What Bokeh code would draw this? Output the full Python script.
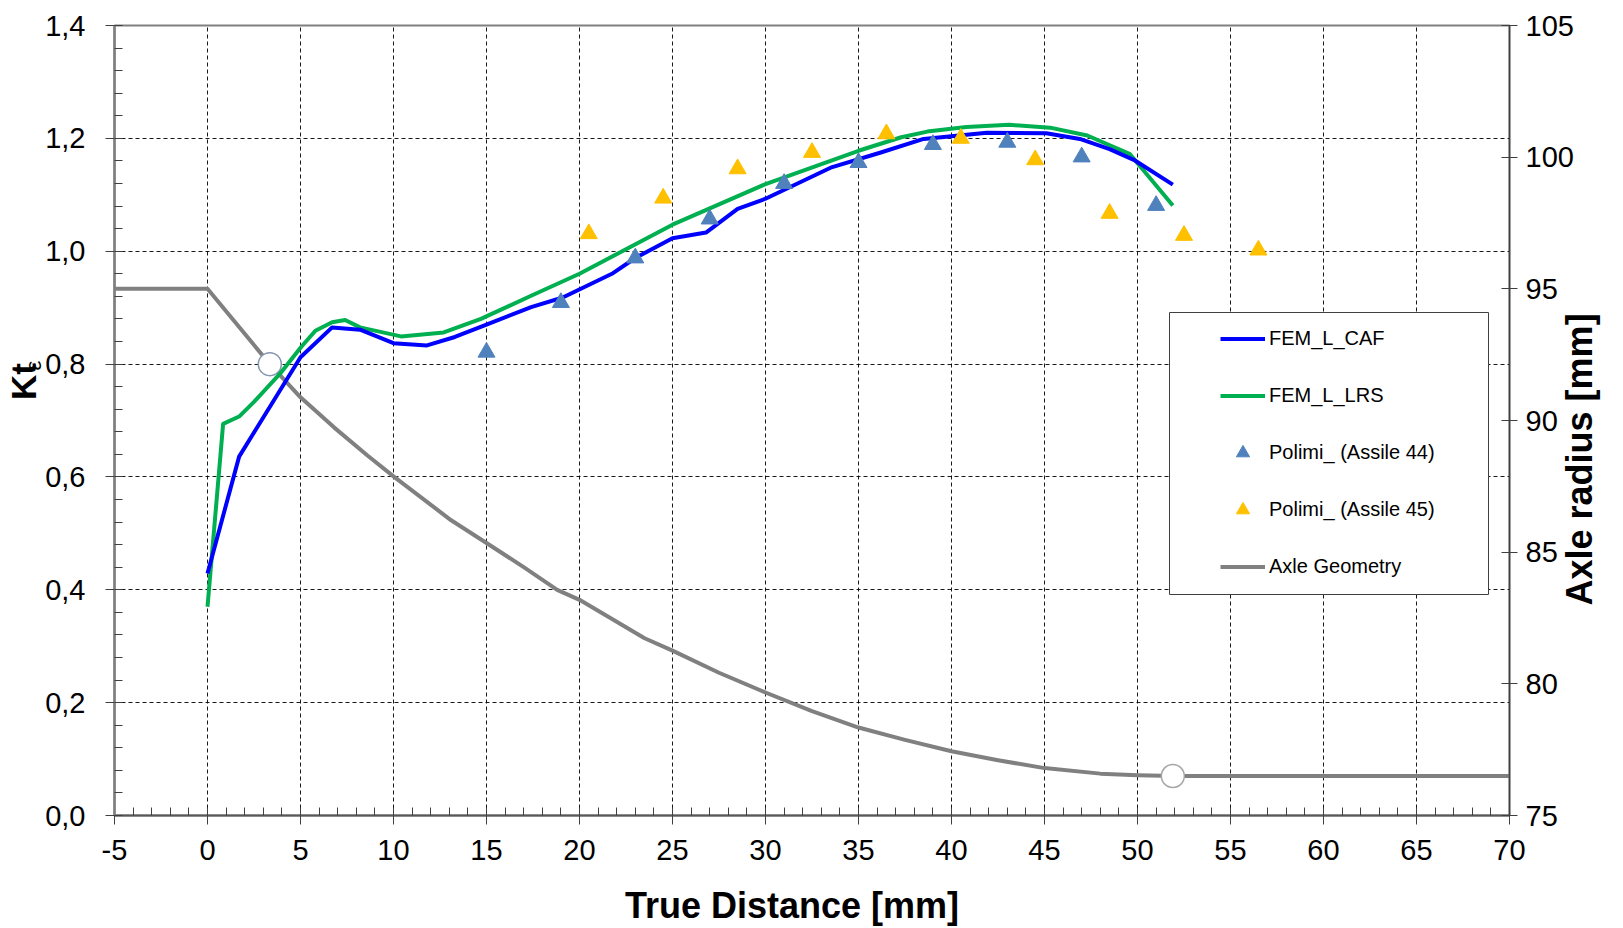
import math
from bokeh.plotting import figure
from bokeh.models import (Range1d, LinearAxis, FixedTicker, CustomJSTickFormatter,
                          Legend, LegendItem, BoxAnnotation)
from bokeh.embed import file_html
from bokeh.resources import INLINE

# ---------------- data ----------------
CAF_X = [0, 1.7, 5.0, 6.7, 8.2, 10.0, 11.8, 13.3, 15.0, 17.4, 19.1, 21.8, 23.0, 25.0,
         26.8, 28.5, 30.0, 33.5, 36.2, 38.5, 41.9, 45.1, 46.9, 48.5, 49.8, 51.9]
CAF_Y = [0.429, 0.636, 0.812, 0.865, 0.861, 0.837, 0.833, 0.848, 0.870, 0.901, 0.918,
         0.961, 0.988, 1.023, 1.033, 1.075, 1.093, 1.148, 1.175, 1.199, 1.210, 1.209,
         1.199, 1.181, 1.162, 1.118]

LRS_X = [0, 0.84, 1.7, 2.5, 3.9, 5.0, 5.8, 6.7, 7.4, 8.2, 10.4, 12.7, 14.7, 17.4, 20,
         25, 30, 35, 37.3, 38.7, 40.8, 43.1, 45.3, 47.3, 49.6, 51.9]
LRS_Y = [0.370, 0.694, 0.707, 0.733, 0.783, 0.829, 0.859, 0.874, 0.878, 0.865, 0.849,
         0.856, 0.880, 0.921, 0.960, 1.047, 1.119, 1.178, 1.202, 1.212, 1.220, 1.224,
         1.219, 1.205, 1.172, 1.081]

A44_X = [15, 19, 23, 27, 31, 35, 39, 43, 47, 51]
A44_Y = [0.821, 0.909, 0.988, 1.057, 1.120, 1.157, 1.189, 1.193, 1.167, 1.081]

A45_X = [20.5, 24.5, 28.5, 32.5, 36.5, 40.5, 44.5, 48.5, 52.5, 56.5]
A45_Y = [1.031, 1.094, 1.146, 1.175, 1.208, 1.200, 1.162, 1.067, 1.028, 1.002]

GEOM_X = [-5, 0, 3.35, 5, 6.8, 8.6, 10, 13.1, 15, 17, 18.8, 20, 23.5, 25, 27.5, 30,
          32.5, 35, 37.5, 40, 42.5, 45, 48, 50, 52, 70]
GEOM_R = [95.0, 95.0, 92.14, 90.88, 89.74, 88.67, 87.88, 86.21, 85.35, 84.43, 83.57,
          83.19, 81.73, 81.26, 80.42, 79.67, 78.96, 78.34, 77.87, 77.44, 77.10, 76.80,
          76.59, 76.53, 76.50, 76.50]

MARK_X = [3.35, 51.9]
MARK_R = [92.14, 76.50]
MARK_LINE = ["#8497b0", "#a6a6a6"]

X_TICKS = [-5, 0, 5, 10, 15, 20, 25, 30, 35, 40, 45, 50, 55, 60, 65, 70]
X_TICK_LABELS = ["-5", "0", "5", "10", "15", "20", "25", "30", "35", "40", "45", "50",
                 "55", "60", "65", "70"]
KT_TICKS = [0.0, 0.2, 0.4, 0.6, 0.8, 1.0, 1.2, 1.4]
KT_TICK_LABELS = ["0,0", "0,2", "0,4", "0,6", "0,8", "1,0", "1,2", "1,4"]
R_TICKS = [75, 80, 85, 90, 95, 100, 105]
R_TICK_LABELS = ["75", "80", "85", "90", "95", "100", "105"]

LABELS = ["FEM_L_CAF", "FEM_L_LRS", "Polimi_ (Assile 44)", "Polimi_ (Assile 45)",
          "Axle Geometry"]
X_TITLE = "True Distance [mm]"
Y_TITLE = "Kt"
Y_TITLE_SUB = "ε"
R_TITLE = "Axle radius [mm]"

FONT = "Liberation Sans"
NB = "\u00a0"

# ---------------- figure ----------------
p = figure(width=1623, height=928, output_backend="svg", toolbar_location=None,
           x_range=Range1d(-5, 70), y_range=Range1d(0, 1.4),
           min_border_left=114, min_border_right=114, min_border_top=25,
           min_border_bottom=112)
p.extra_y_ranges = {"r": Range1d(75, 105)}
p.outline_line_color = "#808080"
p.outline_line_width = 2
p.background_fill_color = "white"

FMT_CODE = ("let i = -1; for (let k = 0; k < t.length; k++) {"
            " if (Math.abs(t[k] - tick) < 1e-6) { i = k; } }"
            " return i >= 0 ? l[i] : '';")


def style_axis(ax, ticks, labels, minor):
    ax.ticker = FixedTicker(ticks=ticks, minor_ticks=minor)
    ax.formatter = CustomJSTickFormatter(args=dict(t=ticks, l=labels), code=FMT_CODE)
    ax.major_label_text_font = FONT
    ax.major_label_text_font_size = "29px"
    ax.major_label_text_color = "black"
    ax.major_tick_line_color = "#404040"
    ax.minor_tick_line_color = "#404040"
    ax.major_tick_line_width = 1
    ax.minor_tick_line_width = 1


def title_axis(ax, text, size, bold, standoff):
    ax.ticker = FixedTicker(ticks=[], minor_ticks=[])
    ax.axis_line_color = None
    ax.major_tick_line_color = None
    ax.minor_tick_line_color = None
    ax.major_tick_out = 0
    ax.major_tick_in = 0
    ax.minor_tick_out = 0
    ax.minor_tick_in = 0
    ax.major_label_standoff = 0
    ax.major_label_text_font_size = "0px"
    ax.axis_label = text
    ax.axis_label_text_font = FONT
    ax.axis_label_text_font_size = size
    ax.axis_label_text_font_style = "bold" if bold else "normal"
    ax.axis_label_text_color = "black"
    ax.axis_label_standoff = standoff


# left axis
la = p.yaxis[0]
style_axis(la, KT_TICKS, KT_TICK_LABELS, [round(i * 0.04, 2) for i in range(36)])
la.major_tick_out = 9
la.major_tick_in = 0
la.minor_tick_in = 8
la.minor_tick_out = 0
la.axis_line_color = "#7f7f7f"
la.axis_line_width = 2.5
la.major_label_standoff = 20

# bottom axis
ba = p.xaxis[0]
style_axis(ba, X_TICKS, X_TICK_LABELS, list(range(-5, 71)))
ba.major_tick_out = 9
ba.major_tick_in = 0
ba.minor_tick_in = 8
ba.minor_tick_out = 0
ba.axis_line_color = "#595959"
ba.axis_line_width = 2
ba.major_label_standoff = 15

# right axis
ra = LinearAxis(y_range_name="r")
style_axis(ra, R_TICKS, R_TICK_LABELS, [])
ra.major_tick_out = 8
ra.major_tick_in = 8
ra.minor_tick_line_color = None
ra.axis_line_color = "#404040"
ra.axis_line_width = 1.5
ra.major_label_standoff = 8
p.add_layout(ra, "right")

# title axes (label only)
eps_ax = LinearAxis()
title_axis(eps_ax, NB * 18 + Y_TITLE_SUB, "22px", False, -3)
p.add_layout(eps_ax, "left")

kt_ax = LinearAxis()
title_axis(kt_ax, NB * 8 + Y_TITLE, "35px", True, -25)
p.add_layout(kt_ax, "left")

xt_ax = LinearAxis()
title_axis(xt_ax, X_TITLE + NB * 4, "36px", True, 22)
p.add_layout(xt_ax, "below")

rt_ax = LinearAxis(y_range_name="r")
r_text = R_TITLE
props = rt_ax.properties()
if "axis_label_orientation" in props:
    rt_ax.axis_label_orientation = math.pi / 2
if "axis_label_align" in props:
    aligned = False
    for cand in ("start", "left", "bottom"):
        try:
            rt_ax.axis_label_align = cand
            aligned = True
            break
        except Exception:
            pass
    if aligned:
        r_text = NB * 21 + R_TITLE
title_axis(rt_ax, r_text, "36px", True, 3)
p.add_layout(rt_ax, "right")

# grids
for g in (p.xgrid[0], p.ygrid[0]):
    g.grid_line_color = "black"
    g.grid_line_dash = "4 3"
    g.grid_line_width = 1
    g.grid_line_alpha = 0.9

# ---------------- data glyphs ----------------
r_geom = p.line(GEOM_X, GEOM_R, y_range_name="r", line_color="#808080", line_width=4,
                line_join="round")
p.scatter(MARK_X, MARK_R, y_range_name="r", marker="circle", size=23,
          fill_color="white", line_color=MARK_LINE, line_width=1.5)
r_lrs = p.line(LRS_X, LRS_Y, line_color="#00b050", line_width=4, line_join="round")
r_caf = p.line(CAF_X, CAF_Y, line_color="#0000ff", line_width=4, line_join="round")
r_a44 = p.scatter(A44_X, A44_Y, marker="triangle", size=17, fill_color="#4f81bd",
                  line_color="#4f81bd")
r_a45 = p.scatter(A45_X, A45_Y, marker="triangle", size=17, fill_color="#ffc000",
                  line_color="#ffc000")

# ---------------- legend ----------------
box = BoxAnnotation(left=1055, right=1374, bottom=221, top=503,
                    left_units="screen", right_units="screen",
                    bottom_units="screen", top_units="screen",
                    fill_color="white", fill_alpha=1.0,
                    line_color="#404040", line_width=1, line_alpha=1.0)
p.add_layout(box)

legend = Legend(items=[LegendItem(label=LABELS[0], renderers=[r_caf]),
                       LegendItem(label=LABELS[1], renderers=[r_lrs]),
                       LegendItem(label=LABELS[2], renderers=[r_a44]),
                       LegendItem(label=LABELS[3], renderers=[r_a45]),
                       LegendItem(label=LABELS[4], renderers=[r_geom])],
                location=(1096, 222), padding=10, margin=0,
                glyph_width=45, glyph_height=33, label_height=33,
                label_standoff=4, spacing=24,
                label_text_font=FONT, label_text_font_size="20px",
                label_text_color="black",
                border_line_alpha=0, background_fill_alpha=0)
p.add_layout(legend)

open("out.html", "w").write(file_html(p, INLINE))
